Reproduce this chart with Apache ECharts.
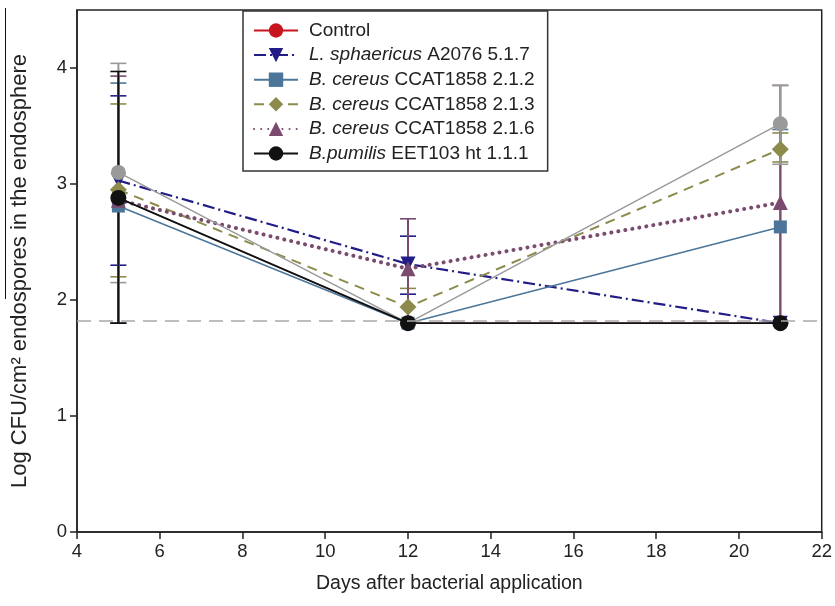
<!DOCTYPE html>
<html>
<head>
<meta charset="utf-8">
<script src="https://cdn.jsdelivr.net/npm/echarts@6/dist/echarts.min.js"></script>
<style>
html, body { margin: 0; padding: 0; background: #fff; }
#chart { width: 835px; height: 606px; }
</style>
</head>
<body>
<div id="chart"></div>
<script>
// sampling days (x)
const days = [5, 12, 21];

// mean log CFU per series
const control = [2.88, 1.8, 1.8];
const sphaericus = [3.03, 2.31, 1.8];
const cereus212 = [2.81, 1.8, 2.63];
const cereus213 = [2.95, 1.94, 3.30];
const cereus216 = [2.86, 2.27, 2.84];
const pumilis = [2.88, 1.8, 1.8];
const unlabelled = [3.10, 1.8, 3.52];   // grey series, not in the legend

// error bars as [low, high], null = none drawn
const sphaericusErr = [[2.30, 3.76], [2.05, 2.55], null];
const cereus212Err = [[1.8, 3.87], null, [1.8, 3.47]];
const cereus213Err = [[2.20, 3.69], [1.8, 2.10], [3.19, 3.44]];
const cereus216Err = [[1.8, 3.93], [1.8, 2.70], [1.8, 3.85]];
const unlabelledErr = [[2.15, 4.04], null, [3.17, 3.85]];
const pumilisErr = [[1.8, 3.97], null, null];

// detection limit (dashed line)
const detectionLimit = 1.82;

const legendItalic = ['', 'L. sphaericus', 'B. cereus', 'B. cereus', 'B. cereus', 'B.pumilis'];
const legendRest = ['Control', ' A2076 5.1.7', ' CCAT1858 2.1.2', ' CCAT1858 2.1.3', ' CCAT1858 2.1.6', ' EET103 ht 1.1.1'];
const legendNames = legendItalic.map((it, i) => it + legendRest[i]);

const FONT = 'Liberation Sans';

function pts(values) {
    return values.map((v, i) => [days[i], v]);
}

function lineSeries(name, values, color, symbol, size, lineType, width, extra) {
    return Object.assign({
        type: 'line',
        name: name,
        data: pts(values),
        symbol: symbol,
        symbolSize: size,
        itemStyle: { color: color, borderWidth: 0 },
        lineStyle: { color: color, width: width, type: lineType },
        emphasis: { disabled: true },
        animation: false
    }, extra || {});
}

function errSeries(name, errs, color) {
    const data = [];
    errs.forEach((e, i) => {
        if (e) data.push([days[i], e[0], e[1]]);
    });
    return {
        type: 'custom',
        name: name,
        data: data,
        silent: true,
        animation: false,
        encode: { x: 0, y: [1, 2] },
        renderItem: function (params, api) {
            const x = api.value(0);
            const lo = api.coord([x, api.value(1)]);
            const hi = api.coord([x, api.value(2)]);
            const w = 8;
            const st = { stroke: color, lineWidth: 1.6 };
            return {
                type: 'group',
                children: [
                    { type: 'line', shape: { x1: lo[0], y1: lo[1], x2: hi[0], y2: hi[1] }, style: { stroke: color, lineWidth: 2 } },
                    { type: 'line', shape: { x1: hi[0] - w, y1: hi[1], x2: hi[0] + w, y2: hi[1] }, style: st },
                    { type: 'line', shape: { x1: lo[0] - w, y1: lo[1], x2: lo[0] + w, y2: lo[1] }, style: st }
                ]
            };
        }
    };
}

const colors = {
    control: '#c8141e',
    sphaericus: '#221c86',
    cereus212: '#4c7699',
    cereus213: '#8c8b4c',
    cereus216: '#7a4b6e',
    pumilis: '#111111',
    unlabelled: '#9a9a9a'
};

var chart = echarts.init(document.getElementById('chart'), null, { renderer: 'canvas' });

var option = {
    backgroundColor: '#fff',
    textStyle: { fontFamily: FONT },
    grid: {
        left: 77, right: 13, top: 10, bottom: 74,
        show: true, borderColor: '#222', borderWidth: 1.5
    },
    xAxis: {
        type: 'value',
        min: 4, max: 22, interval: 2,
        name: 'Days after bacterial application',
        nameLocation: 'middle',
        nameGap: 42,
        nameTextStyle: { fontFamily: FONT, fontSize: 19.5, color: '#222' },
        axisLine: { lineStyle: { color: '#222', width: 1.5 } },
        axisTick: { length: 7, lineStyle: { color: '#222', width: 1.5 } },
        axisLabel: { fontFamily: FONT, fontSize: 18.5, color: '#222', margin: 10 },
        splitLine: { show: false }
    },
    yAxis: {
        type: 'value',
        min: 0, max: 4.5, interval: 1,
        name: 'Log CFU/cm² endospores in the endosphere',
        nameLocation: 'middle',
        nameGap: 46,
        nameTextStyle: { fontFamily: FONT, fontSize: 22, color: '#222' },
        axisLine: { lineStyle: { color: '#222', width: 1.5 } },
        axisTick: { length: 7, lineStyle: { color: '#222', width: 1.5 } },
        axisLabel: { fontFamily: FONT, fontSize: 18.5, color: '#222', margin: 10, showMaxLabel: false },
        splitLine: { show: false }
    },
    legend: {
        data: legendNames,
        orient: 'vertical',
        left: 243, top: 11,
        padding: [10, 13, 8, 10],
        itemWidth: 44, itemHeight: 18, itemGap: 5.6,
        borderColor: '#333', borderWidth: 1.5,
        backgroundColor: '#fff',
        selectedMode: false,
        textStyle: {
            fontFamily: FONT, fontSize: 19, color: '#222', padding: [0, 0, 0, 6],
            rich: { i: { fontFamily: FONT, fontSize: 19, fontStyle: 'italic', color: '#222' } }
        },
        formatter: function (name) {
            const i = legendNames.indexOf(name);
            return legendItalic[i] ? '{i|' + legendItalic[i] + '}' + legendRest[i] : legendRest[i];
        }
    },
    graphic: [{
        type: 'line',
        shape: { x1: 5.5, y1: 8, x2: 5.5, y2: 299 },
        style: { stroke: '#111', lineWidth: 1 },
        silent: true
    }],
    series: [
        lineSeries(legendNames[0], control, colors.control, 'circle', 15, 'solid', 1, {
            markLine: {
                silent: true, symbol: 'none', animation: false,
                label: { show: false },
                lineStyle: { color: '#a8a8a8', type: [14, 8], width: 1.5 },
                data: [{ yAxis: detectionLimit }]
            }
        }),
        lineSeries(legendNames[1], sphaericus, colors.sphaericus, 'triangle', 15, [12, 4, 2, 4], 2.2, { symbolRotate: 180 }),
        errSeries('err1', sphaericusErr, colors.sphaericus),
        lineSeries(legendNames[2], cereus212, colors.cereus212, 'rect', 13, 'solid', 1.5),
        errSeries('err2', cereus212Err, colors.cereus212),
        lineSeries(legendNames[3], cereus213, colors.cereus213, 'diamond', 17, [10, 7], 2),
        errSeries('err3', cereus213Err, colors.cereus213),
        lineSeries(legendNames[4], cereus216, colors.cereus216, 'triangle', 15, [0.1, 7], 4, {
            lineStyle: { color: colors.cereus216, width: 4, type: [0.1, 7], cap: 'round' }
        }),
        errSeries('err4', cereus216Err, colors.cereus216),
        lineSeries('unlabelled', unlabelled, colors.unlabelled, 'circle', 15, 'solid', 1.5),
        errSeries('err6', unlabelledErr, colors.unlabelled),
        lineSeries(legendNames[5], pumilis, colors.pumilis, 'circle', 16, 'solid', 1.8),
        errSeries('err5', pumilisErr, colors.pumilis)
    ]
};

chart.setOption(option);
</script>
</body>
</html>
